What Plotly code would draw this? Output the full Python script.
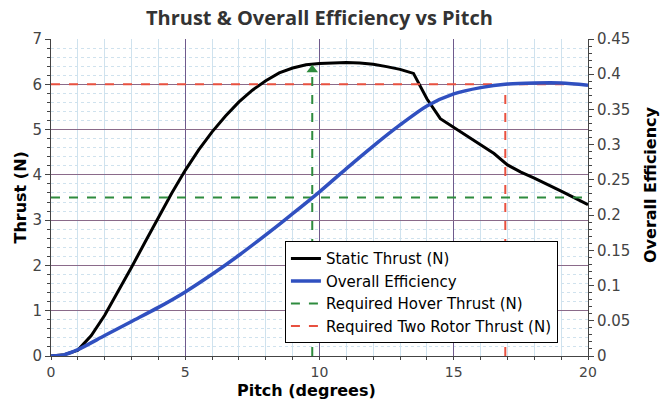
import plotly.graph_objects as go

# ---- data ----
pitch_thrust = [0, 0.5, 1, 1.5, 2, 2.5, 3, 3.5, 4, 4.5, 5, 5.5, 6, 6.5, 7, 7.5, 8, 8.5, 9, 9.5,
                10, 10.5, 11, 11.5, 12, 12.5, 13, 13.5, 14, 14.5, 15, 15.5, 16, 16.5, 17, 17.5,
                18, 18.5, 19, 19.5, 20]
static_thrust = [0, 0.03, 0.13, 0.45, 0.9, 1.42, 1.96, 2.51, 3.06, 3.6, 4.1, 4.55, 4.95, 5.3, 5.61,
                 5.87, 6.08, 6.25, 6.36, 6.43, 6.46, 6.47, 6.48, 6.47, 6.44, 6.39, 6.33, 6.24, 5.68,
                 5.24, 5.05, 4.85, 4.65, 4.47, 4.22, 4.06, 3.93, 3.79, 3.64, 3.49, 3.34]

pitch_eff = [0, 0.5, 1, 2, 3, 4, 5, 6, 7, 8, 9, 10, 11, 12, 13, 14, 15, 16, 17, 18, 19, 20]
overall_eff = [0, 0.002, 0.009, 0.029, 0.049, 0.069, 0.091, 0.116, 0.143, 0.172, 0.202, 0.233,
               0.266, 0.298, 0.328, 0.355, 0.372, 0.381, 0.386, 0.3875, 0.3875, 0.3845]

hover_thrust = 3.5
hover_pitch = 9.73
hover_peak = 6.42
two_rotor_thrust = 6.0
two_rotor_pitch = 16.92
x_range = [0, 20]

GREEN = "#2e8b3e"
RED = "#e8503f"

fig = go.Figure()
fig.add_trace(go.Scatter(x=pitch_thrust, y=static_thrust, mode="lines", name="Static Thrust (N)",
                         line=dict(color="black", width=3)))
fig.add_trace(go.Scatter(x=pitch_eff, y=overall_eff, mode="lines", name="Overall Efficiency",
                         line=dict(color="#3050c0", width=3.5, shape="spline", smoothing=0.8),
                         yaxis="y2"))
fig.add_trace(go.Scatter(x=x_range, y=[hover_thrust, hover_thrust], mode="lines",
                         name="Required Hover Thrust (N)",
                         line=dict(color=GREEN, width=2, dash="dash")))
fig.add_trace(go.Scatter(x=x_range, y=[two_rotor_thrust, two_rotor_thrust], mode="lines",
                         name="Required Two Rotor Thrust (N)",
                         line=dict(color=RED, width=2, dash="dash")))
fig.add_trace(go.Scatter(x=[hover_pitch, hover_pitch], y=[0, hover_peak - 0.1], mode="lines",
                         showlegend=False, line=dict(color=GREEN, width=2, dash="dash")))
fig.add_trace(go.Scatter(x=[hover_pitch], y=[hover_peak - 0.1], mode="markers", showlegend=False,
                         marker=dict(symbol="triangle-up", size=10, color=GREEN)))
fig.add_trace(go.Scatter(x=[two_rotor_pitch, two_rotor_pitch], y=[0, two_rotor_thrust], mode="lines",
                         showlegend=False, line=dict(color=RED, width=2, dash="dash")))

tickfont = dict(family="DejaVu Sans", size=15, color="#444")
xtickfont = dict(family="DejaVu Sans", size=14, color="#444")
titlefont = dict(family="DejaVu Sans", size=16, color="black", weight="bold")

fig.update_layout(
    width=664, height=400,
    margin=dict(l=51, r=76, t=39, b=44),
    plot_bgcolor="white", paper_bgcolor="white",
    title=dict(text="<b>Thrust & Overall Efficiency vs Pitch</b>", x=0.481, xanchor="center",
               xref="container", yref="container", y=1 - 18 / 400, yanchor="middle",
               font=dict(family="Open Sans", size=20, color="#333")),
    xaxis=dict(range=x_range, dtick=5, tickfont=xtickfont, showline=True, linecolor="#444",
               ticks="outside", ticklen=3, tickcolor="#444", automargin=False,
               showgrid=True, gridcolor="#6f5a8c", gridwidth=1, zeroline=False,
               minor=dict(dtick=1, showgrid=True, gridcolor="#cfe2ee", ticks="outside",
                          ticklen=3, tickcolor="#444")),
    yaxis=dict(range=[0, 7], dtick=1, tickfont=tickfont, showline=True, linecolor="#444",
               ticks="outside", ticklen=5, tickcolor="#444", automargin=False,
               showgrid=True, gridcolor="#8a6a8a", gridwidth=1, zeroline=False,
               minor=dict(dtick=0.2, showgrid=True, gridcolor="#cfe2ee", griddash="dot",
                          ticks="outside", ticklen=3, tickcolor="#444")),
    yaxis2=dict(range=[0, 0.45], dtick=0.05, overlaying="y", side="right", tickfont=tickfont,
                showline=True, linecolor="#444", ticks="outside", ticklen=5, tickcolor="#444",
                showgrid=False, zeroline=False, automargin=False,
                minor=dict(dtick=0.01, ticks="outside", ticklen=3, tickcolor="#444",
                           showgrid=False)),
    legend=dict(x=0.944, y=0.04, xanchor="right", yanchor="bottom", bgcolor="white",
                bordercolor="black", borderwidth=1,
                font=dict(family="DejaVu Sans", size=15, color="black"),
                tracegroupgap=0, itemwidth=30),
    showlegend=True,
    annotations=[
        dict(text="Pitch (degrees)", xref="paper", yref="paper", x=(306 - 51) / 537, y=-0.11,
             xanchor="center", yanchor="middle", showarrow=False, font=titlefont, borderpad=0),
        dict(text="Thrust (N)", xref="paper", yref="paper", x=(20 - 51) / 537, y=0.5,
             xanchor="center", yanchor="middle", textangle=-90, showarrow=False, font=titlefont),
        dict(text="Overall Efficiency", xref="paper", yref="paper", x=(650 - 51) / 537,
             y=(356 - 185) / 317, xanchor="center", yanchor="middle", textangle=-90,
             showarrow=False, font=titlefont),
    ],
)

fig.write_html("out.html", config={"displayModeBar": False},
               post_script="document.body.style.margin='0';document.body.style.overflow='hidden';")
